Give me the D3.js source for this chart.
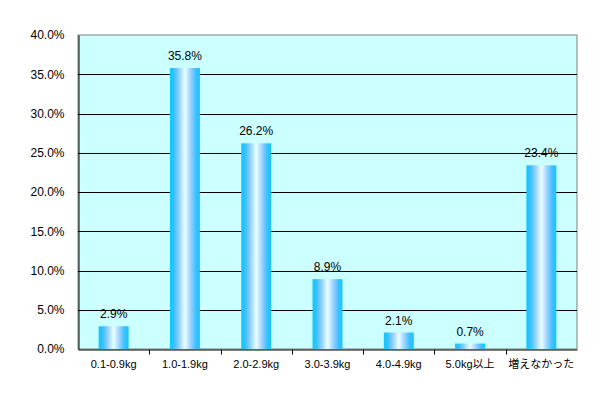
<!DOCTYPE html>
<html><head><meta charset="utf-8">
<script src="https://cdn.jsdelivr.net/npm/d3@7"></script>
<style>body{margin:0;background:#fff}</style>
</head><body>
<svg id="c" width="610" height="400"></svg>
<script>
const categories = ["0.1-0.9kg","1.0-1.9kg","2.0-2.9kg","3.0-3.9kg","4.0-4.9kg","5.0kg以上","増えなかった"];
const values = [2.9, 35.8, 26.2, 8.9, 2.1, 0.7, 23.4];
const yTicks = [0,5,10,15,20,25,30,35,40];

const svg = d3.select("#c");
const m = {l:78, r:577, t:35, b:349};
const x = d3.scaleBand().domain(categories).range([m.l, m.r]).paddingInner(0.58).paddingOuter(0.29);
const xb = d3.scaleBand().domain(categories).range([m.l, m.r]);
const y = d3.scaleLinear().domain([0,40]).range([m.b, m.t]);
const font = "'Liberation Sans', 'Noto Sans CJK JP', sans-serif";

const defs = svg.append("defs");
const g = defs.append("linearGradient").attr("id","bg").attr("x1","0").attr("x2","1").attr("y1","0").attr("y2","0");
[[0,"#10c8f8"],[0.12,"#30c0ff"],[0.28,"#88ccff"],[0.5,"#eaffff"],[0.7,"#99d0ff"],[0.86,"#40c0ff"],[1,"#10c8f8"]]
  .forEach(([o,c])=>g.append("stop").attr("offset",o).attr("stop-color",c));

svg.append("rect").attr("x",m.l).attr("y",m.t).attr("width",m.r-m.l).attr("height",m.b-m.t)
  .attr("fill","#ccffff").attr("stroke","#808080").attr("stroke-width",1);

// gridlines
svg.append("g").selectAll("line").data(yTicks.filter(d=>d>0&&d<40)).join("line")
  .attr("x1",m.l).attr("x2",m.r).attr("y1",d=>Math.round(y(d))+0.5).attr("y2",d=>Math.round(y(d))+0.5)
  .attr("stroke","#000").attr("stroke-width",1);

// bars
svg.append("g").selectAll("rect").data(values).join("rect")
  .attr("x",(d,i)=>x(categories[i])).attr("width",x.bandwidth())
  .attr("y",d=>y(d)).attr("height",d=>y(0)-y(d)).attr("fill","url(#bg)");

// labels
svg.append("g").selectAll("text").data(values).join("text")
  .attr("x",(d,i)=>x(categories[i])+x.bandwidth()/2).attr("y",d=>y(d)-8)
  .attr("text-anchor","middle").attr("font-family",font).attr("font-size",12).attr("fill","#000")
  .text(d=>d.toFixed(1)+"%");

// y axis
const ya = d3.axisLeft(y).tickValues(yTicks).tickFormat(d=>d.toFixed(1)+"%").tickSize(0).tickPadding(14);
const yg = svg.append("g").attr("transform",`translate(${m.l+0.5},0)`).call(ya);
yg.select(".domain").attr("stroke","#000");
yg.selectAll("text").attr("font-family",font).attr("font-size",12).attr("fill","#000");

// x axis
const xa = d3.axisBottom(xb).tickSize(0).tickPadding(11);
const xg = svg.append("g").attr("transform",`translate(0,${m.b+0.5})`).call(xa);
xg.select(".domain").attr("stroke","#000");
xg.selectAll("text").attr("font-family",font).attr("font-size",11).attr("fill","#000");
xg.selectAll(".tk").data(categories.slice(1)).join("line").attr("class","tk")
  .attr("x1",d=>Math.round(xb(d))+0.5).attr("x2",d=>Math.round(xb(d))+0.5).attr("y1",0).attr("y2",5).attr("stroke","#000");
</script>
</body></html>
